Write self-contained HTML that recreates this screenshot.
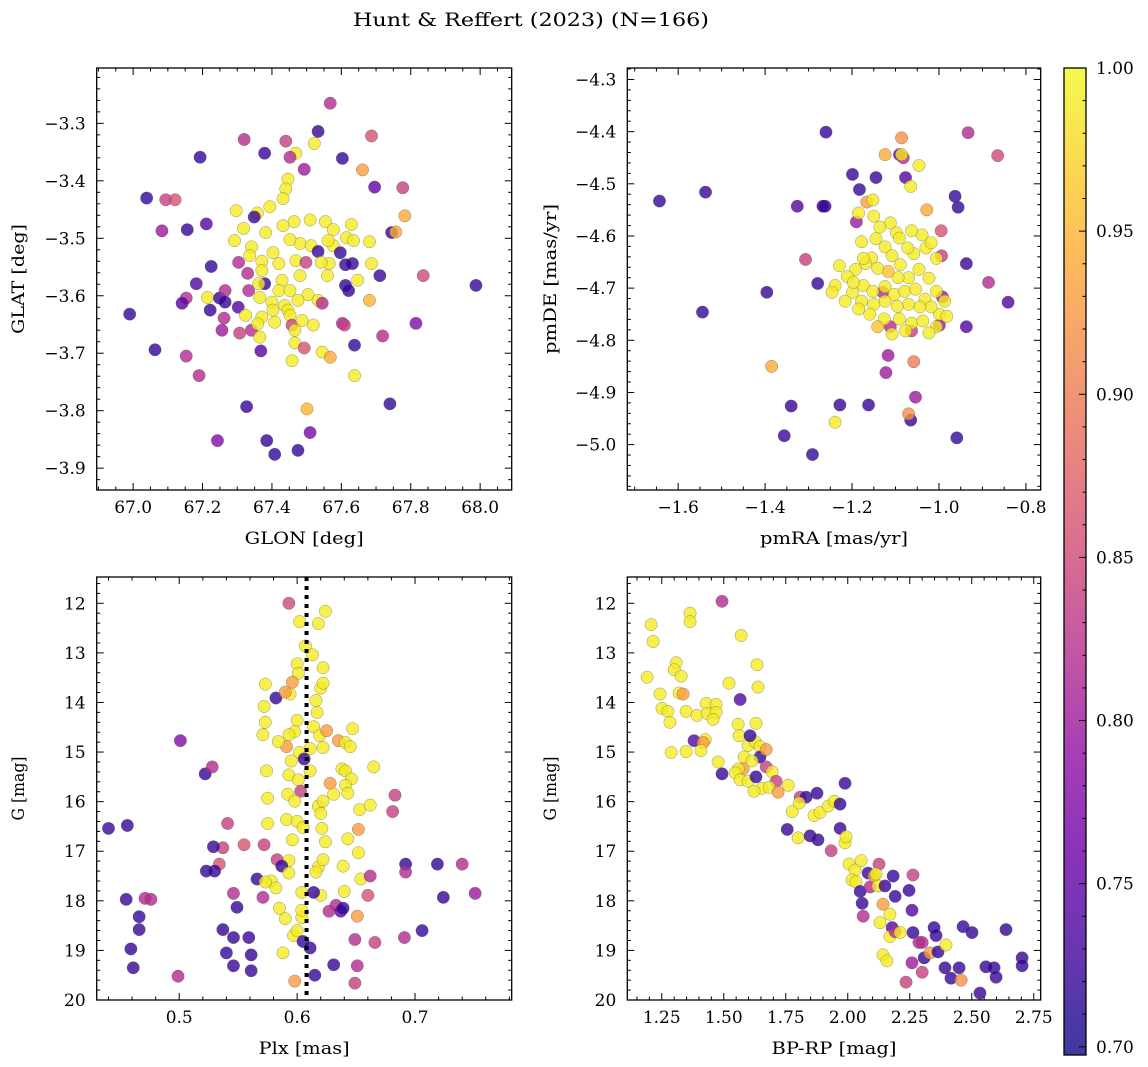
<!DOCTYPE html>
<html><head><meta charset="utf-8">
<style>
html,body{margin:0;padding:0;background:#fff;}
svg{display:block;font-family:"DejaVu Serif","Liberation Serif",serif;}
</style></head>
<body>
<svg id="fig" width="1148" height="1067" viewBox="0 0 1148 1067" xmlns="http://www.w3.org/2000/svg">
<text x="531" y="26" font-size="19" text-anchor="middle" textLength="356" lengthAdjust="spacingAndGlyphs">Hunt &amp; Reffert (2023) (N=166)</text>
<defs>
<linearGradient id="cbgrad" x1="0" y1="1" x2="0" y2="0">
<stop offset="0" stop-color="#0d0887"/><stop offset="0.1" stop-color="#41049d"/><stop offset="0.2" stop-color="#6a00a8"/><stop offset="0.3" stop-color="#8f0da4"/><stop offset="0.4" stop-color="#b12a90"/><stop offset="0.5" stop-color="#cc4778"/><stop offset="0.6" stop-color="#e16462"/><stop offset="0.7" stop-color="#f2844b"/><stop offset="0.8" stop-color="#fca636"/><stop offset="0.9" stop-color="#fcce25"/><stop offset="1" stop-color="#f0f921"/>
</linearGradient>
</defs>
</svg>
<script>
// ---------- Panel 1: GLON / GLAT ----------
const p1Glon = [67.568,67.533,67.687,67.440,67.320,67.469,67.522,67.379,67.452,67.193,67.603,67.493,67.661,67.446,67.696,67.777,67.440,67.039,67.094,67.121,67.432,67.394,67.297,67.358,67.783,67.156,67.211,67.745,67.349,67.083,
67.292,67.318,67.341,67.382,67.432,67.464,67.510,67.554,67.577,67.629,67.577,67.481,67.513,67.562,67.452,67.533,67.597,67.565,67.615,67.757,67.225,67.304,67.336,67.403,67.371,67.420,67.469,67.498,67.542,67.635,67.681,67.687,67.632,67.612,67.371,67.379,67.429,67.481,67.560,67.647,67.711,67.182,67.330,67.333,67.420,67.452,67.504,67.533,67.612,67.621,67.365,67.362,67.400,67.437,67.475,67.446,67.214,67.249,67.265,67.153,67.836,67.988,67.681,66.990,67.141,67.222,67.265,67.303,67.324,67.371,67.403,67.408,67.452,67.458,67.487,67.545,67.603,67.609,67.815,67.262,67.256,67.341,67.307,67.359,67.466,67.519,67.365,67.466,67.493,67.545,67.638,67.719,67.063,67.153,67.190,67.368,67.458,67.568,67.638,67.740,67.327,67.501,67.510,67.385,67.475,67.408,67.243];
const p1Glat = [-3.265,-3.314,-3.322,-3.331,-3.328,-3.352,-3.335,-3.352,-3.359,-3.359,-3.361,-3.380,-3.381,-3.397,-3.411,-3.412,-3.414,-3.430,-3.433,-3.433,-3.431,-3.445,-3.452,-3.456,-3.461,-3.485,-3.475,-3.490,-3.463,-3.487,
-3.504,-3.483,-3.515,-3.490,-3.478,-3.471,-3.468,-3.471,-3.485,-3.476,-3.513,-3.509,-3.513,-3.504,-3.502,-3.523,-3.525,-3.544,-3.499,-3.489,-3.549,-3.542,-3.530,-3.525,-3.540,-3.544,-3.539,-3.542,-3.542,-3.504,-3.506,-3.544,-3.544,-3.546,-3.556,-3.579,-3.573,-3.565,-3.565,-3.573,-3.565,-3.579,-3.561,-3.591,-3.591,-3.591,-3.598,-3.608,-3.582,-3.591,-3.603,-3.579,-3.611,-3.617,-3.608,-3.625,-3.603,-3.604,-3.591,-3.604,-3.565,-3.582,-3.608,-3.632,-3.613,-3.625,-3.611,-3.620,-3.634,-3.637,-3.625,-3.646,-3.634,-3.651,-3.643,-3.613,-3.648,-3.651,-3.648,-3.639,-3.660,-3.660,-3.665,-3.649,-3.660,-3.651,-3.672,-3.682,-3.691,-3.698,-3.686,-3.670,-3.694,-3.705,-3.739,-3.696,-3.713,-3.707,-3.739,-3.788,-3.793,-3.797,-3.838,-3.852,-3.869,-3.876,-3.852];
const p1Prob = [.82,.72,.86,.84,.82,.99,.99,.72,.82,.72,.72,.80,.93,.99,.75,.84,.99,.72,.84,.86,.99,.99,.99,.99,.94,.72,.74,.72,.72,.80,
.99,.99,.99,.99,.99,.99,.99,.99,.99,.99,.99,.99,.99,.99,.99,.72,.72,.99,.99,.94,.72,.82,.99,.99,.99,.99,.99,.84,.99,.99,.99,.99,.72,.72,.99,.72,.99,.99,.99,.99,.72,.74,.82,.82,.99,.99,.99,.99,.72,.72,.99,.99,.99,.99,.99,.99,.99,.72,.82,.82,.85,.72,.95,.72,.74,.72,.72,.74,.99,.99,.99,.99,.99,.84,.99,.82,.82,.84,.78,.82,.80,.82,.84,.99,.99,.99,.99,.99,.86,.99,.72,.82,.72,.82,.82,.74,.99,.94,.99,.72,.72,.95,.77,.72,.72,.72,.78];
const p1XTicks = [67.0,67.2,67.4,67.6,67.8,68.0];
const p1XTickLabels = ["67.0","67.2","67.4","67.6","67.8","68.0"];
const p1YTicks = [-3.3,-3.4,-3.5,-3.6,-3.7,-3.8,-3.9];
const p1YTickLabels = ["−3.3","−3.4","−3.5","−3.6","−3.7","−3.8","−3.9"];

// ---------- Panel 2: pmRA / pmDE ----------
const p2Pmra = [-1.643,-1.537,-1.544,-1.396,-1.385,-1.340,-1.356,-1.291,-1.262,-1.326,-1.307,-1.267,-1.279,-1.260,-1.199,-1.183,-1.091,-1.145,-1.162,-1.065,-1.070,-1.054,-0.959,-1.228,-1.239,-0.963,-0.933,-0.865,-0.992,-0.841,-0.886,-0.937,-0.956,-0.995,-0.994,-0.999,-0.937,-1.117,-1.129,-1.166,-1.190,-1.082,-1.086,-1.077,-1.124,-1.086,-1.046,-1.028,-1.065,-0.999,-1.006,-1.058,-1.063,-1.112,-1.122,
-1.178,-1.145,-1.124,-1.155,-1.108,-1.089,-1.058,-1.030,-1.006,-1.039,-1.098,-1.063,-1.023,-1.046,-1.070,-1.094,-1.117,-1.141,-1.169,-1.192,-1.211,-1.199,-1.174,-1.152,-1.124,-1.103,-1.079,-1.054,-1.032,-1.018,-1.044,-1.070,-1.096,-1.124,-1.150,-1.178,-1.159,-1.126,-1.091,-1.063,-1.037,-1.023,-1.077,-1.108,-1.141,-1.185,-1.216,-1.197,-1.072,-1.112,-1.150,-1.185,-1.152,-1.091,-1.174,-1.136,-0.987,-0.982,-1.018,-1.006,-1.229,-1.239,-1.246];
const p2Pmde = [-4.533,-4.516,-4.746,-4.708,-4.850,-4.926,-4.983,-5.019,-4.543,-4.543,-4.645,-4.543,-4.691,-4.401,-4.482,-4.511,-4.444,-4.488,-4.924,-4.953,-4.941,-4.909,-4.987,-4.924,-4.957,-4.524,-4.402,-4.446,-4.717,-4.727,-4.689,-4.653,-4.545,-4.590,-4.638,-4.771,-4.774,-4.829,-4.708,-4.535,-4.573,-4.450,-4.412,-4.488,-4.444,-4.444,-4.465,-4.550,-4.505,-4.750,-4.774,-4.841,-4.782,-4.774,-4.862,
-4.611,-4.605,-4.621,-4.642,-4.638,-4.655,-4.634,-4.623,-4.643,-4.598,-4.594,-4.590,-4.681,-4.664,-4.680,-4.680,-4.668,-4.662,-4.653,-4.664,-4.678,-4.708,-4.695,-4.706,-4.697,-4.712,-4.706,-4.702,-4.721,-4.736,-4.736,-4.731,-4.735,-4.725,-4.731,-4.725,-4.750,-4.759,-4.759,-4.767,-4.763,-4.786,-4.782,-4.788,-4.774,-4.740,-4.725,-4.689,-4.623,-4.575,-4.562,-4.556,-4.531,-4.604,-4.643,-4.583,-4.725,-4.754,-4.613,-4.706,-4.657,-4.695,-4.708];
const p2Prob = [.72,.72,.72,.72,.94,.72,.72,.72,.72,.74,.84,.72,.72,.72,.72,.72,.76,.72,.72,.72,.92,.80,.72,.72,.99,.72,.82,.85,.80,.74,.82,.72,.72,.86,.84,.80,.74,.80,.82,.93,.80,.82,.92,.74,.94,.99,.99,.94,.99,.99,.99,.90,.84,.82,.80,
.99,.99,.99,.99,.99,.99,.99,.99,.99,.99,.99,.99,.99,.99,.99,.99,.96,.99,.99,.99,.99,.99,.99,.99,.99,.99,.99,.99,.99,.99,.99,.99,.99,.99,.99,.99,.99,.99,.99,.99,.99,.99,.99,.99,.96,.99,.99,.99,.99,.99,.99,.99,.99,.99,.99,.99,.99,.99,.99,.99,.99,.99,.99];
const p2XTicks = [-1.6,-1.4,-1.2,-1.0,-0.8];
const p2XTickLabels = ["−1.6","−1.4","−1.2","−1.0","−0.8"];
const p2YTicks = [-4.3,-4.4,-4.5,-4.6,-4.7,-4.8,-4.9,-5.0];
const p2YTickLabels = ["−4.3","−4.4","−4.5","−4.6","−4.7","−4.8","−4.9","−5.0"];

// ---------- Panel 3: Plx / G ----------
const p3Plx = [.440,.456,.455,.471,.476,.466,.466,.459,.461,.499,.501,.522,.528,.541,.534,.537,.529,.523,.530,.546,.549,.546,.537,.559,.561,.540,.546,.561,.555,.566,
.593,.624,.602,.618,.607,.600,.613,.601,.596,.573,.582,.594,.590,.622,.620,.616,.622,.617,.614,.619,.622,.611,.602,.625,.635,.641,.647,.645,.638,.572,.573,.571,.600,.598,.593,.591,.584,.595,.606,.593,.611,.628,.641,.646,.641,.631,.643,.653,.662,.665,.574,.601,.592,.603,.598,.618,.620,.622,.621,.575,.575,.591,.600,.605,.624,.643,.652,.639,.652,.654,.618,.622,.616,.596,.593,.572,.583,.587,.593,.578,.573,.582,.571,.585,.604,.620,.640,.633,.637,.639,.651,.649,.627,.614,.604,.590,.604,.597,.600,.605,.588,.611,.598,.615,.649,.631,.651,.666,.660,.662,.683,.681,.692,.692,.691,.719,.740,.751,.724,.706];
const p3G = [16.54,16.48,17.97,17.95,17.97,18.32,18.58,18.97,19.35,19.52,14.77,15.44,15.30,16.44,17.26,16.93,16.91,17.40,17.40,17.85,18.13,18.74,18.58,18.74,19.09,19.05,19.31,19.41,16.87,17.56,
12.00,12.16,12.37,12.41,12.86,13.22,13.04,13.41,13.59,13.63,13.91,13.83,13.79,13.30,13.71,13.96,13.61,14.20,14.49,14.67,14.91,14.93,15.01,14.57,14.77,14.81,14.53,14.89,15.34,14.08,14.40,14.65,14.36,14.59,14.65,14.89,14.79,15.18,15.14,15.46,15.38,15.63,15.38,15.54,15.67,15.85,15.83,16.16,16.07,15.30,15.38,15.56,15.85,15.79,15.99,16.09,16.24,15.99,16.54,16.44,15.93,16.36,16.40,16.52,16.81,16.75,16.56,17.30,17.03,17.56,17.32,17.17,17.42,16.77,17.19,16.87,17.17,17.30,17.44,17.60,17.62,17.74,17.93,18.15,17.83,17.89,17.81,18.09,18.21,18.15,18.31,18.78,18.21,17.83,18.34,18.36,18.19,18.70,18.60,18.82,19.05,18.95,19.62,19.50,19.66,19.29,19.31,18.84,17.89,17.50,15.87,16.20,17.26,17.42,18.74,17.26,17.26,17.85,17.93,18.60];
const p3Prob = [.72,.72,.72,.82,.82,.72,.72,.72,.72,.82,.78,.72,.82,.84,.86,.84,.72,.72,.72,.82,.72,.72,.72,.72,.72,.72,.72,.72,.86,.72,
.85,.99,.99,.99,.99,.99,.99,.99,.93,.99,.72,.99,.93,.99,.99,.99,.99,.99,.99,.99,.99,.99,.99,.93,.93,.99,.99,.99,.99,.99,.99,.99,.99,.99,.99,.93,.99,.99,.72,.99,.99,.93,.99,.99,.99,.99,.99,.99,.99,.99,.99,.99,.99,.84,.99,.99,.99,.99,.99,.99,.99,.99,.99,.99,.99,.99,.93,.99,.99,.99,.99,.99,.99,.99,.99,.84,.84,.72,.99,.99,.99,.99,.82,.99,.99,.99,.99,.82,.74,.72,.93,.82,.82,.72,.99,.99,.99,.99,.99,.72,.99,.72,.93,.72,.84,.72,.82,.84,.86,.82,.84,.84,.72,.82,.82,.72,.82,.80,.72,.72];
const p3YTicks = [12,13,14,15,16,17,18,19,20];
const p3YTickLabels = ["12","13","14","15","16","17","18","19","20"];
const p3XTicks = [0.5,0.6,0.7];
const p3XTickLabels = ["0.5","0.6","0.7"];
const p3RefPlx = [0.608];

// ---------- Panel 4: BP-RP / G ----------
const p4Bprp = [1.207,1.215,1.191,1.243,1.308,1.300,1.328,1.320,1.336,1.364,1.364,1.251,1.275,1.283,1.348,1.392,1.429,1.433,1.469,1.469,1.425,1.457,1.493,1.521,1.634,1.570,1.566,1.638,1.380,1.417,1.408,1.348,1.288,1.477,1.493,1.558,1.562,1.582,1.598,1.626,1.646,1.606,1.630,1.578,1.558,1.546,1.566,1.598,1.630,1.646,1.614,1.671,1.671,1.695,1.711,1.654,1.622,1.683,1.760,1.719,1.808,1.832,1.776,1.756,1.800,1.804,1.848,1.876,1.864,1.888,1.880,1.921,1.945,1.989,1.969,1.989,1.969,1.993,2.005,1.933,2.029,2.017,2.033,2.054,2.050,2.058,2.082,2.090,2.062,2.106,2.122,2.126,2.114,2.142,2.150,2.130,2.183,2.191,2.179,2.170,2.170,2.142,2.158,2.191,2.211,2.263,2.247,2.259,2.263,2.287,2.259,2.300,2.308,2.332,2.300,2.356,2.364,2.392,2.416,2.465,2.449,2.501,2.533,2.557,2.590,2.598,2.638,2.703,2.703,2.235,2.457,2.396,2.348];
const p4G = [12.43,12.77,13.49,13.83,13.20,13.34,13.47,13.81,13.83,12.20,12.37,14.12,14.18,14.40,14.18,14.26,14.02,14.22,14.04,14.20,14.75,14.34,11.96,13.61,13.24,12.65,13.94,13.69,14.77,14.81,14.97,14.99,15.01,15.20,15.44,14.44,14.67,15.10,14.87,14.79,14.89,14.67,14.42,15.34,15.34,15.42,15.56,15.59,15.50,15.10,15.18,14.95,15.30,15.40,15.59,15.73,15.79,15.71,15.67,15.81,15.91,15.91,16.20,16.56,16.73,16.03,16.69,15.83,16.28,16.22,16.77,16.09,15.99,15.63,16.05,16.83,16.54,16.71,17.26,16.99,17.38,17.58,17.62,17.19,17.81,18.05,17.44,17.72,18.31,17.50,17.70,17.26,17.46,18.07,17.70,18.44,17.50,17.91,18.54,18.27,18.72,19.09,19.21,18.62,18.64,17.48,17.79,18.19,18.64,18.84,19.25,18.84,19.15,19.05,19.44,18.70,19.03,19.35,19.56,18.52,19.35,18.64,19.86,19.33,19.35,19.54,18.58,19.15,19.31,19.64,19.60,18.89,18.54];
const p4Prob = [.99,.99,.99,.99,.99,.99,.99,.99,.93,.99,.99,.99,.99,.99,.99,.99,.99,.99,.99,.99,.99,.99,.82,.99,.99,.99,.74,.99,.74,.93,.99,.99,.99,.99,.72,.99,.99,.99,.99,.99,.99,.72,.99,.93,.99,.99,.99,.99,.72,.72,.99,.93,.84,.99,.84,.99,.99,.99,.99,.93,.84,.72,.99,.72,.99,.99,.72,.72,.99,.99,.72,.99,.99,.72,.72,.99,.72,.99,.99,.84,.99,.99,.99,.99,.72,.72,.72,.82,.82,.93,.99,.84,.99,.93,.72,.99,.72,.72,.74,.99,.99,.99,.99,.82,.99,.84,.72,.74,.72,.82,.80,.82,.72,.93,.84,.72,.72,.72,.72,.72,.72,.72,.72,.72,.72,.72,.72,.72,.72,.84,.92,.99,.72];
const p4XTicks = [1.25,1.50,1.75,2.00,2.25,2.50,2.75];
const p4XTickLabels = ["1.25","1.50","1.75","2.00","2.25","2.50","2.75"];
const p4YTicks = [12,13,14,15,16,17,18,19,20];
const p4YTickLabels = ["12","13","14","15","16","17","18","19","20"];

// ---------- Colorbar ----------
const cbTicks = [0.70,0.75,0.80,0.85,0.90,0.95,1.00];
const cbTickLabels = ["0.70","0.75","0.80","0.85","0.90","0.95","1.00"];
const cbMin = 0.6975, cbMax = 1.0;

const NS = "http://www.w3.org/2000/svg";
const svg = document.getElementById('fig');
function mk(tag, attrs, parent){
  const e = document.createElementNS(NS, tag);
  for (const k in attrs) e.setAttribute(k, attrs[k]);
  (parent||svg).appendChild(e);
  return e;
}
const plasma = [[13,8,135],[65,4,157],[106,0,168],[143,13,164],[177,42,144],[204,71,120],[225,100,98],[242,132,75],[252,166,54],[252,206,37],[240,249,33]];
function cmap(p){
  let t = (p-cbMin)/(cbMax-cbMin); t = Math.max(0,Math.min(1,t));
  const f = t*10, i = Math.min(9,Math.floor(f)), r = f-i;
  const a = plasma[i], b = plasma[i+1];
  return 'rgb('+a.map((v,k)=>Math.round(v+(b[k]-v)*r)).join(',')+')';
}
function linScale(d0,d1,r0,r1){ return v => r0 + (v-d0)/(d1-d0)*(r1-r0); }

function panel(cfg){
  const g = mk('g', {});
  
  
  const {L,R,T,B} = cfg;
  const sx = linScale(cfg.xd[0],cfg.xd[1],L,R);
  const sy = linScale(cfg.yd[0],cfg.yd[1],B,T);
  const clipId = cfg.name+'-clip';
  const cp = mk('clipPath', {id:clipId}, g);
  mk('rect', {x:L,y:T,width:R-L,height:B-T}, cp);
  const pts = mk('g', {'clip-path':'url(#'+clipId+')'}, g);
  
  
  for (let i=0;i<cfg.xs.length;i++){
    const c = mk('circle', {cx:sx(cfg.xs[i]), cy:sy(cfg.ys[i]), r:6.2, fill:cmap(cfg.ps[i]), 'fill-opacity':0.8, stroke:'#555', 'stroke-opacity':0.6, 'stroke-width':0.5}, pts);
    
    
  }
  if (cfg.refLine){
    for (const v of cfg.refLine){
      const ln = mk('line', {x1:sx(v),x2:sx(v),y1:T,y2:B,stroke:'#000','stroke-width':4,'stroke-dasharray':'4 5'}, pts);
      
      
    }
  }
  const fr = mk('rect', {x:L,y:T,width:R-L,height:B-T,fill:'none',stroke:'#000','stroke-width':1.3}, g);
  
  
  const tk = mk('g', {stroke:'#000','stroke-width':1}, g);
  const xmin = Math.min(cfg.xd[0],cfg.xd[1]), xmax = Math.max(cfg.xd[0],cfg.xd[1]);
  const ymin = Math.min(cfg.yd[0],cfg.yd[1]), ymax = Math.max(cfg.yd[0],cfg.yd[1]);
  for (let v=Math.ceil(xmin/cfg.xminor-1e-6)*cfg.xminor; v<=xmax+1e-9; v+=cfg.xminor){
    const x = sx(v);
    const major = cfg.xTicks.some(t=>Math.abs(t-v)<cfg.xminor/3);
    const len = major?7:3.5;
    mk('line',{x1:x,x2:x,y1:B,y2:B-len},tk); mk('line',{x1:x,x2:x,y1:T,y2:T+len},tk);
  }
  for (let v=Math.ceil(ymin/cfg.yminor-1e-6)*cfg.yminor; v<=ymax+1e-9; v+=cfg.yminor){
    const y = sy(v);
    const major = cfg.yTicks.some(t=>Math.abs(t-v)<cfg.yminor/3);
    const len = major?7:3.5;
    mk('line',{x1:L,x2:L+len,y1:y,y2:y},tk); mk('line',{x1:R,x2:R-len,y1:y,y2:y},tk);
  }
  cfg.xTicks.forEach((v,i)=>{
    const t = mk('text',{x:sx(v),y:B+23,'font-size':17,'text-anchor':'middle'},g);
    t.textContent = cfg.xLabels[i];
    
    
  });
  cfg.yTicks.forEach((v,i)=>{
    const t = mk('text',{x:L-11,y:sy(v)+6,'font-size':17,'text-anchor':'end'},g);
    t.textContent = cfg.yLabels[i];
    
    
  });
  const xt = mk('text',{x:(L+R)/2,y:B+54,'font-size':17,'text-anchor':'middle',textLength:cfg.xTitleLen,lengthAdjust:'spacingAndGlyphs'},g);
  xt.textContent = cfg.xTitle;
  
  
  const yt = mk('text',{x:0,y:0,'font-size':17,'text-anchor':'middle',transform:'translate('+cfg.yTitleX+','+((T+B)/2)+') rotate(-90)',textLength:cfg.yTitleLen,lengthAdjust:'spacingAndGlyphs'},g);
  yt.textContent = cfg.yTitle;
  
  
}

panel({name:'glon-glat-panel',L:96.7,R:511.7,T:68,B:490,xd:[66.895,68.091],yd:[-3.938,-3.2037],
  xs:p1Glon,ys:p1Glat,ps:p1Prob,xTicks:p1XTicks,xLabels:p1XTickLabels,yTicks:p1YTicks,yLabels:p1YTickLabels,
  xminor:0.05,yminor:0.02,xTitle:'GLON [deg]',xTitleLen:119,yTitle:'GLAT [deg]',yTitleLen:110,yTitleX:24});
panel({name:'proper-motion-panel',L:627.3,R:1040.7,T:68,B:490,xd:[-1.717,-0.766],yd:[-5.087,-4.278],
  xs:p2Pmra,ys:p2Pmde,ps:p2Prob,xTicks:p2XTicks,xLabels:p2XTickLabels,yTicks:p2YTicks,yLabels:p2YTickLabels,
  xminor:0.05,yminor:0.02,xTitle:'pmRA [mas/yr]',xTitleLen:148,yTitle:'pmDE [mas/yr]',yTitleLen:150,yTitleX:556});
panel({name:'parallax-panel',L:96.7,R:511.7,T:577,B:1000,xd:[0.430,0.782],yd:[20.0,11.47],
  xs:p3Plx,ys:p3G,ps:p3Prob,xTicks:p3XTicks,xLabels:p3XTickLabels,yTicks:p3YTicks,yLabels:p3YTickLabels,
  xminor:0.02,yminor:0.2,xTitle:'Plx [mas]',xTitleLen:91,yTitle:'G [mag]',yTitleLen:64,yTitleX:24,refLine:p3RefPlx});
panel({name:'cmd-panel',L:627.3,R:1040.7,T:577,B:1000,xd:[1.111,2.778],yd:[20.0,11.47],
  xs:p4Bprp,ys:p4G,ps:p4Prob,xTicks:p4XTicks,xLabels:p4XTickLabels,yTicks:p4YTicks,yLabels:p4YTickLabels,
  xminor:0.05,yminor:0.2,xTitle:'BP-RP [mag]',xTitleLen:125,yTitle:'G [mag]',yTitleLen:64,yTitleX:556});

const cb = mk('g',{});


const cL=1064, cR=1086, cT=68, cB=1055;
mk('rect',{x:cL,y:cT,width:cR-cL,height:cB-cT,fill:'url(#cbgrad)','fill-opacity':0.8},cb);
mk('rect',{x:cL,y:cT,width:cR-cL,height:cB-cT,fill:'none',stroke:'#000','stroke-width':1.3},cb);
const cy = linScale(cbMin,cbMax,cB,cT);
for (let v=0.70; v<=1.0001; v+=0.01){
  const y = cy(v);
  const major = cbTicks.some(t=>Math.abs(t-v)<0.003);
  mk('line',{x1:cR,x2:cR-(major?7:3.5),y1:y,y2:y,stroke:'#000','stroke-width':1},cb);
}
cbTicks.forEach((v,i)=>{
  const t = mk('text',{x:1096,y:cy(v)+6,'font-size':17},cb);
  t.textContent = cbTickLabels[i];
  
  
});
</script>
</body></html>
